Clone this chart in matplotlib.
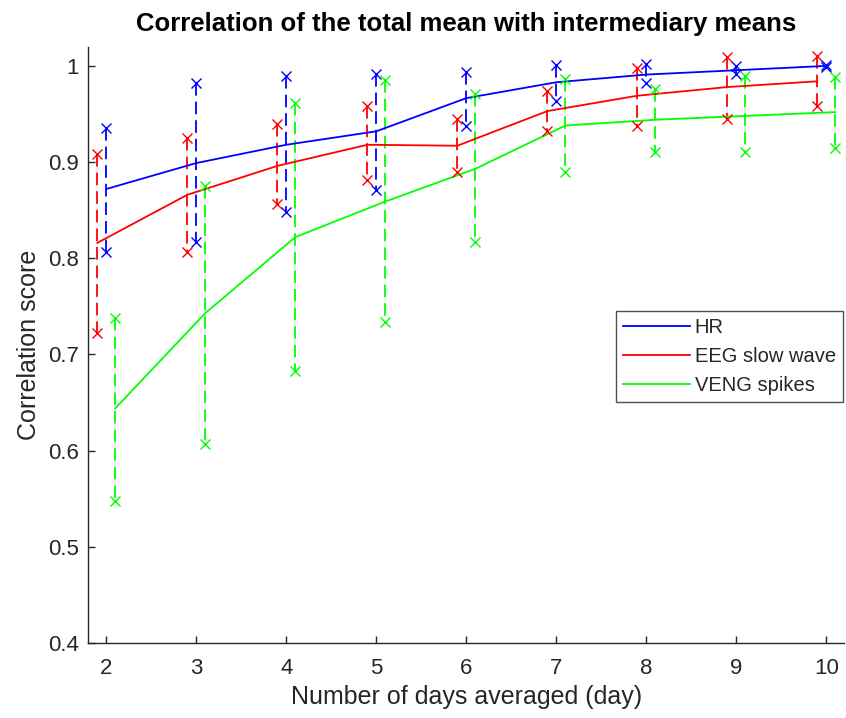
import matplotlib
matplotlib.use("Agg")
import matplotlib.pyplot as plt
import numpy as np

plt.rcParams['font.family'] = ['Liberation Sans', 'DejaVu Sans']

# ---- data ----
days = [2, 3, 4, 5, 6, 7, 8, 9, 10]

hr_mean = [0.872, 0.899, 0.918, 0.932, 0.9665, 0.983, 0.991, 0.9955, 1.000]
hr_hi   = [0.935, 0.982, 0.990, 0.992, 0.994, 1.001, 1.002, 1.000, 1.001]
hr_lo   = [0.807, 0.817, 0.848, 0.871, 0.938, 0.964, 0.982, 0.992, 0.999]

eeg_mean = [0.816, 0.866, 0.896, 0.918, 0.917, 0.953, 0.969, 0.978, 0.984]
eeg_hi   = [0.9085, 0.925, 0.940, 0.9585, 0.945, 0.974, 0.998, 1.009, 1.010]
eeg_lo   = [0.722, 0.807, 0.856, 0.881, 0.8895, 0.932, 0.938, 0.945, 0.958]

veng_mean = [0.644, 0.743, 0.822, 0.859, 0.893, 0.938, 0.944, 0.948, 0.952]
veng_hi   = [0.7375, 0.8756, 0.961, 0.985, 0.971, 0.986, 0.976, 0.989, 0.988]
veng_lo   = [0.548, 0.607, 0.683, 0.734, 0.817, 0.8895, 0.910, 0.910, 0.915]

labels = ['HR', 'EEG slow wave', 'VENG spikes']
yticks = [0.4, 0.5, 0.6, 0.7, 0.8, 0.9, 1.0]
ytick_labels = ['0.4', '0.5', '0.6', '0.7', '0.8', '0.9', '1']

# ---- style ----
colors = ['#0000FF', '#FF0000', '#00FF00']
offsets = [0.0, -0.1, 0.1]
axcol = '#262626'

fig = plt.figure(figsize=(8.46, 7.18), dpi=100)
ax = fig.add_axes([0.1044, 0.1045, 0.8936, 0.8305])

series = [(hr_mean, hr_lo, hr_hi), (eeg_mean, eeg_lo, eeg_hi), (veng_mean, veng_lo, veng_hi)]
x = np.array(days, dtype=float)
handles = []
for (m, lo, hi), c, off, lab in zip(series, colors, offsets, labels):
    xs = x + off
    h, = ax.plot(xs, m, color=c, lw=1.3, label=lab, zorder=3)
    handles.append(h)
    for xi, l, u in zip(xs, lo, hi):
        ax.plot([xi, xi], [u, l], color=c, lw=1.3, linestyle=(0, (7, 3.3)),
                zorder=2)
        ax.plot([xi, xi], [u, l], color=c, lw=0, marker='x', markersize=6.5,
                markeredgewidth=1.0, zorder=4)

ax.set_xlim(1.8, 10.2)
ax.set_ylim(0.4, 1.02)
ax.set_xticks(days)
ax.set_xticklabels([str(d) for d in days])
ax.set_yticks(yticks)
ax.set_yticklabels(ytick_labels)

for s in ['top', 'right']:
    ax.spines[s].set_visible(False)
for s in ['left', 'bottom']:
    ax.spines[s].set_color(axcol)
    ax.spines[s].set_linewidth(1.0)
ax.tick_params(direction='in', length=5, width=1.0, colors=axcol, labelsize=16)
ax.tick_params(axis='y', pad=7)
ax.tick_params(axis='x', pad=11)

ax.set_xlabel('Number of days averaged (day)', fontsize=18, color=axcol, labelpad=4)
ax.set_ylabel('Correlation score', fontsize=18, color=axcol, labelpad=5)
ax.set_title('Correlation of the total mean with intermediary means',
             fontsize=18.5, fontweight='bold', color='black', pad=11)

leg = ax.legend(handles=handles, loc='upper right', bbox_to_anchor=(0.998, 0.557),
                fontsize=14.5, frameon=True, fancybox=False, handlelength=3.3,
                handletextpad=0.25, borderpad=0.35, labelspacing=0.5,
                borderaxespad=0.0)
leg.get_frame().set_edgecolor(axcol)
leg.get_frame().set_linewidth(1.0)
for t in leg.get_texts():
    t.set_color(axcol)

fig.savefig('out.png', dpi=100)
